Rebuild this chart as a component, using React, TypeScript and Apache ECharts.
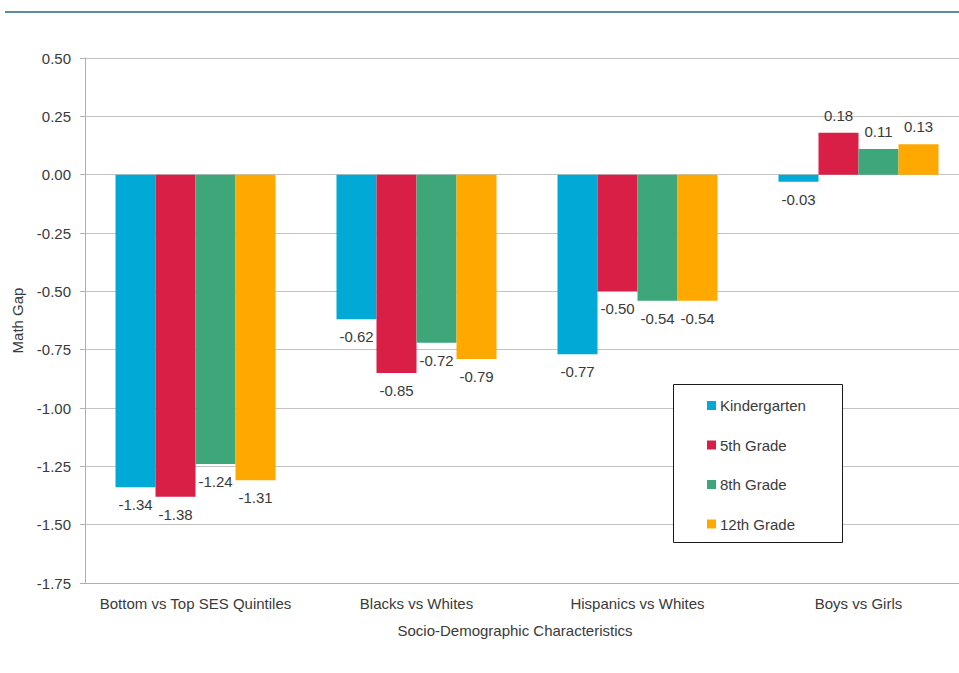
import React, { useEffect, useRef } from "react";
import * as echarts from "echarts";

// Gap groups along the x axis
const categories = [
  "Bottom vs Top SES Quintiles",
  "Blacks vs Whites",
  "Hispanics vs Whites",
  "Boys vs Girls",
];

// Math gap by grade level
const kindergarten = [-1.34, -0.62, -0.77, -0.03];
const grade5 = [-1.38, -0.85, -0.5, 0.18];
const grade8 = [-1.24, -0.72, -0.54, 0.11];
const grade12 = [-1.31, -0.79, -0.54, 0.13];

const seriesNames = ["Kindergarten", "5th Grade", "8th Grade", "12th Grade"];
const seriesColors = ["#00A9D6", "#D91F46", "#3DA77A", "#FFA800"];

const FONT = "'Liberation Sans', Arial, Helvetica, sans-serif";
const TEXT = "#3a3a3a";

function makeSeries(name: string, values: number[], color: string) {
  return {
    name,
    type: "bar",
    barWidth: 40,
    barGap: "0%",
    itemStyle: { color },
    data: values.map((v) => ({
      value: v,
      label: { position: v < 0 ? "bottom" : "top" },
    })),
    label: {
      show: true,
      distance: 10,
      fontFamily: FONT,
      fontSize: 15,
      color: TEXT,
      formatter: (p: any) => Number(p.value).toFixed(2),
    },
  };
}

export default function App() {
  const ref = useRef<HTMLDivElement>(null);

  useEffect(() => {
    if (!ref.current) return;
    const chart = echarts.init(ref.current, undefined, { renderer: "svg" });
    const values = [kindergarten, grade5, grade8, grade12];

    chart.setOption({
      animation: false,
      backgroundColor: "#ffffff",
      textStyle: { fontFamily: FONT },
      // the canvas is wider than the visible frame; the plot runs past its right edge
      grid: { left: 85, right: 0, top: 58, bottom: 90, containLabel: false },
      graphic: [
        {
          type: "line",
          z: 10,
          shape: { x1: 5, y1: 12, x2: 969, y2: 12 },
          style: { stroke: "#5E8BA4", lineWidth: 2 },
        },
        {
          type: "rect",
          z: 10,
          shape: { x: 673.5, y: 384.5, width: 169, height: 158 },
          style: { fill: "#ffffff", stroke: "#1a1a1a", lineWidth: 1 },
        },
      ],
      legend: {
        z: 20,
        orient: "vertical",
        left: 707,
        top: 398,
        padding: 0,
        itemWidth: 9,
        itemHeight: 9,
        itemGap: 24.5,
        icon: "rect",
        textStyle: { fontFamily: FONT, fontSize: 15, color: TEXT, padding: [0, 0, 0, -1] },
        data: seriesNames,
      },
      xAxis: {
        type: "category",
        data: categories,
        name: "Socio-Demographic Characteristics",
        nameLocation: "middle",
        nameGap: 40,
        nameTextStyle: {
          fontFamily: FONT,
          fontSize: 15,
          color: TEXT,
          padding: [0, 24, 0, 0],
        },
        axisLine: { onZero: false, lineStyle: { color: "#b0b0b0", width: 1 } },
        axisTick: { show: false },
        axisLabel: { interval: 0, fontFamily: FONT, fontSize: 15, color: TEXT, margin: 13 },
      },
      yAxis: {
        type: "value",
        min: -1.75,
        max: 0.5,
        interval: 0.25,
        name: "Math Gap",
        nameLocation: "middle",
        nameGap: 60,
        nameTextStyle: { fontFamily: FONT, fontSize: 15, color: TEXT },
        axisLine: { show: true, lineStyle: { color: "#b0b0b0", width: 1 } },
        axisTick: { show: true, length: 5, lineStyle: { color: "#b0b0b0" } },
        axisLabel: {
          fontFamily: FONT,
          fontSize: 15,
          color: TEXT,
          margin: 14,
          formatter: (v: number) => v.toFixed(2),
        },
        splitLine: { lineStyle: { color: "#c4c4c4", width: 1 } },
      },
      series: values.map((vals, i) => makeSeries(seriesNames[i], vals, seriesColors[i])),
    });

    return () => chart.dispose();
  }, []);

  return (
    <div
      style={{
        position: "fixed",
        left: 0,
        top: 0,
        width: 959,
        height: 673,
        overflow: "hidden",
        background: "#ffffff",
      }}
    >
      <div ref={ref} style={{ width: 969, height: 673 }} />
    </div>
  );
}
